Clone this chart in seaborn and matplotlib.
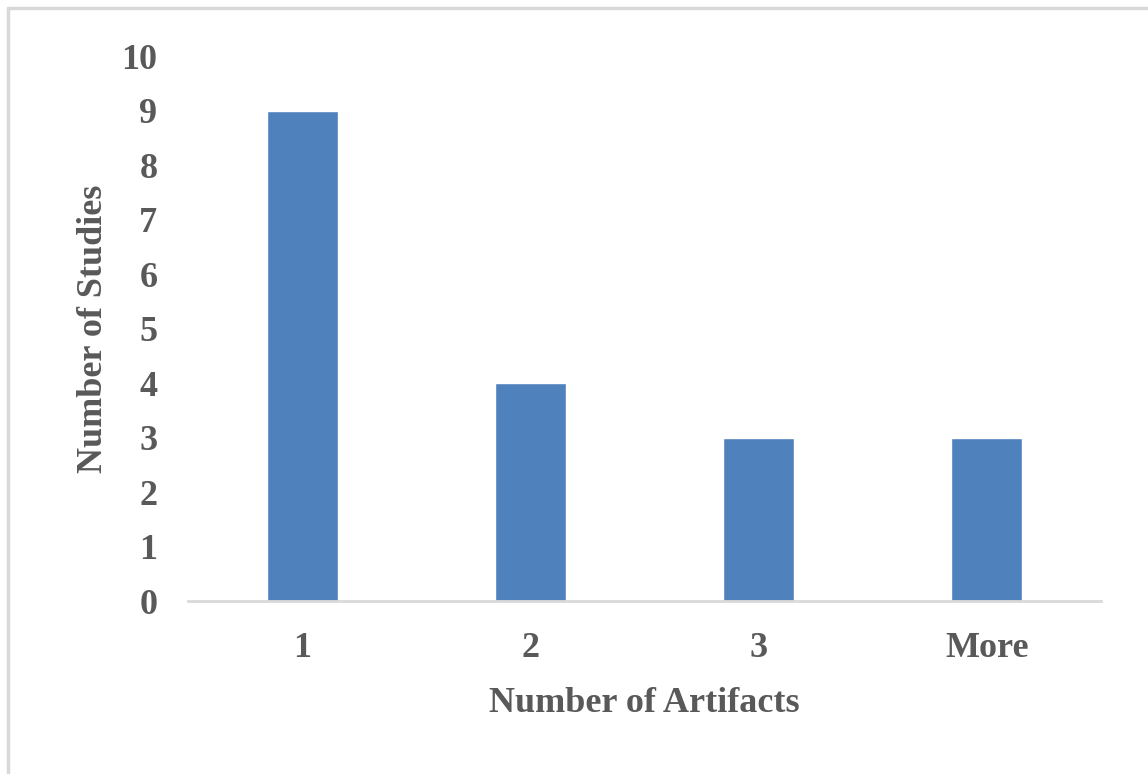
import matplotlib
matplotlib.use("Agg")
import matplotlib.pyplot as plt
from matplotlib.lines import Line2D
import seaborn as sns
import pandas as pd

categories = ["1", "2", "3", "More"]
studies = [9, 4, 3, 3]
y_ticks = list(range(0, 11))

sns.set_theme(style="white")
plt.rcParams["font.family"] = ["Liberation Serif", "DejaVu Serif"]
plt.rcParams["font.weight"] = "bold"

text_color = "#595959"
bar_color = "#4F81BD"

df = pd.DataFrame({"artifacts": categories, "studies": studies})

fig = plt.figure(figsize=(11.48, 7.74), dpi=100)
ax = fig.add_axes([0.1638, 0.2235, 0.959 - 0.1638, 0.9276 - 0.2235])

sns.barplot(data=df, x="artifacts", y="studies", color=bar_color,
            width=0.31, saturation=1, ax=ax)

ax.set_xlim(-0.5, 3.5)
ax.set_ylim(0, 10)
ax.set_yticks(y_ticks)
ax.set_yticklabels([str(t) for t in y_ticks])

for s in ["top", "right", "left"]:
    ax.spines[s].set_visible(False)
ax.spines["bottom"].set_color("#d9d9d9")
ax.spines["bottom"].set_linewidth(2)

ax.tick_params(axis="both", length=0, labelsize=26, labelcolor=text_color)
ax.tick_params(axis="x", pad=22)
ax.tick_params(axis="y", pad=22)
for lbl in ax.get_xticklabels() + ax.get_yticklabels():
    lbl.set_fontweight("bold")

ax.set_xlabel("Number of Artifacts", fontsize=26, fontweight="bold",
              color=text_color, labelpad=16)
ax.set_ylabel("Number of Studies", fontsize=26, fontweight="bold",
              color=text_color, labelpad=8)

# light chart-area border on the left and top edges
fig.add_artist(Line2D([8 / 1148, 8 / 1148], [0, 1 - 8 / 774],
                      transform=fig.transFigure, color="#d9d9d9", lw=2.5))
fig.add_artist(Line2D([8 / 1148, 1], [1 - 8 / 774, 1 - 8 / 774],
                      transform=fig.transFigure, color="#d9d9d9", lw=2.5))

fig.savefig("out.png", dpi=100, facecolor="white")
